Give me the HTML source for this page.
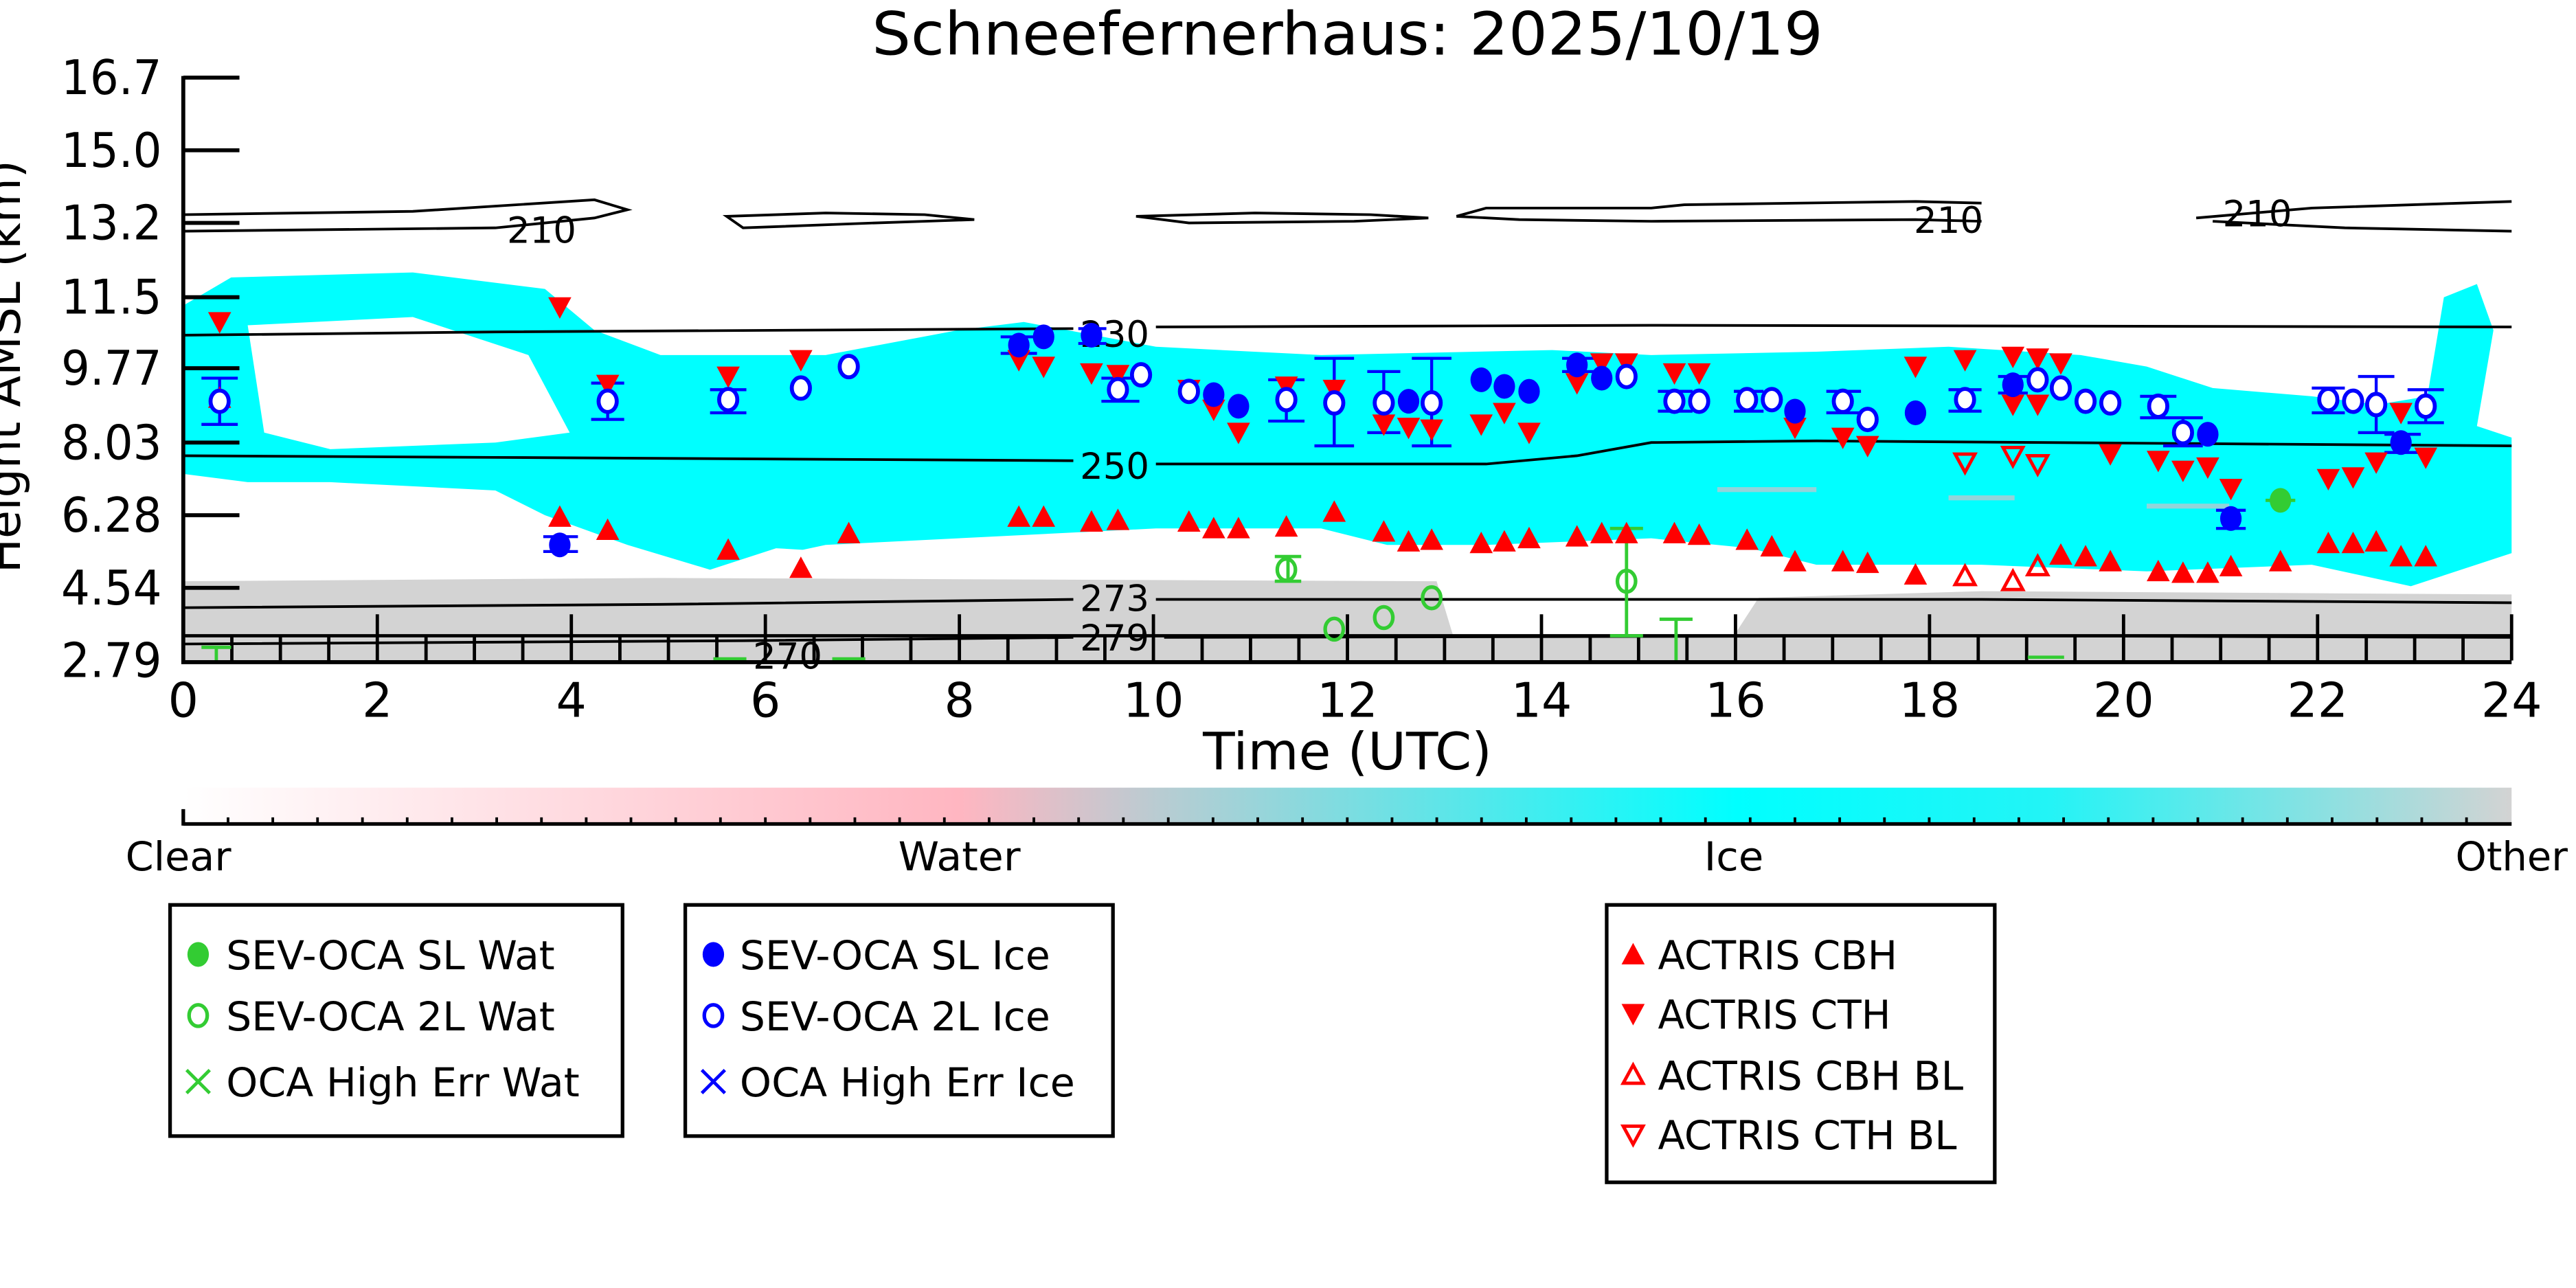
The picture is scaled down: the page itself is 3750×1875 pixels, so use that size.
<!DOCTYPE html>
<html><head><meta charset="utf-8"><style>html,body{margin:0;padding:0;background:#fff;overflow:hidden}svg{display:block}text{font-family:"DejaVu Sans","Liberation Sans",sans-serif;fill:#000}</style></head><body>
<svg width="3750" height="1875" viewBox="0 0 1560 780" xmlns="http://www.w3.org/2000/svg">
<defs>
<linearGradient id="cb" x1="0" x2="1" y1="0" y2="0">
<stop offset="0" stop-color="#ffffff"/><stop offset="0.333" stop-color="#ffb6c1"/><stop offset="0.42" stop-color="#b8ccd2"/><stop offset="0.667" stop-color="#00ffff"/><stop offset="0.8" stop-color="#22f4f6"/><stop offset="1" stop-color="#d3d3d3"/></linearGradient>
<polygon id="tu" points="0,-7 7,6 -7,6" fill="#f00"/>
<polygon id="td" points="0,7 7,-6 -7,-6" fill="#f00"/>
<polygon id="tuh" points="0,-6 6,5 -6,5" fill="none" stroke="#f00" stroke-width="2"/>
<polygon id="tdh" points="0,6 6,-5 -6,-5" fill="none" stroke="#f00" stroke-width="2"/>
<ellipse id="bf" rx="6.5" ry="7.5" fill="#00f"/>
<ellipse id="bh" rx="5.5" ry="6.5" fill="#fff" stroke="#00f" stroke-width="2.4"/>
</defs>
<text x="528" y="33" font-size="36" textLength="576" lengthAdjust="spacingAndGlyphs">Schneefernerhaus: 2025/10/19</text>

<polygon fill="#d3d3d3" points="111,352 400,350 870,352 880,385 1050,385 1065,362 1200,358 1521,360 1521,400 111,400"/>
<polygon fill="#00ffff" points="111,185 140,168 250,165 330,175 360,200 400,215 500,215 580,200 620,195 700,210 800,215 940,212 1000,215 1100,213 1180,210 1260,215 1300,222 1340,235 1400,240 1440,245 1470,240 1480,180 1500,172 1510,200 1500,258 1521,265 1521,335 1460,355 1400,342 1300,346 1200,342 1100,342 1060,332 1000,326 900,330 840,330 800,320 700,320 600,325 500,330 430,345 380,330 330,312 300,297 200,292 150,292 111,287"/>
<polygon fill="#fff" points="150,197 250,192 320,215 345,262 300,268 200,272 160,262"/>
<polygon fill="#fff" points="430,345 470,347 520,335 470,332"/>
<g fill="#f4b8c2" opacity="0.6"><rect x="1040" y="295" width="60" height="3"/><rect x="1180" y="300" width="40" height="3"/><rect x="1300" y="305" width="50" height="3"/></g>

<g fill="none" stroke="#000" stroke-width="1.6">
<path d="M111,130 L250,128 L360,121 L380,127 L360,132 L300,138 L111,140"/>
<path d="M440,131 L500,129 L560,130 L590,133 L530,135 L450,138 Z"/>
<path d="M688,131 L760,129 L830,130 L865,132 L820,134 L720,135 Z"/>
<path d="M882,131 L900,126 L1000,126 L1020,124 L1160,122 L1200,123 M882,131 L920,133 L1000,134 L1160,133 L1200,134"/>
<path d="M1330,132 L1400,126 L1521,122 M1340,134 L1420,138 L1521,140"/>
<path d="M111,203 L300,201 L650,199 M700,198 L1000,197 L1521,198"/>
<path d="M111,276 L300,277 L650,279 M700,281 L900,281 L955,276 L1000,268 L1100,267 L1521,270"/>
<path d="M111,368 L400,366 L650,363 M700,363 L1200,363 L1521,365"/>
<path d="M111,390 L450,388 L650,386 M705,386 L1200,385 L1521,386"/>
</g>
<g font-size="22"><text x="307" y="147">210</text><text x="1159" y="141">210</text><text x="1346" y="137">210</text><text x="654" y="210">230</text><text x="654" y="290">250</text><text x="654" y="370">273</text><text x="654" y="394">279</text><text x="456" y="405">270</text></g>

<g stroke="#000" stroke-width="2">
<line x1="111" x2="1521" y1="385" y2="385"/>
<path d="M140.4,385V400M169.8,385V400M199.1,385V400M258,385V400M287.3,385V400M316.6,385V400M375.4,385V400M404.8,385V400M434.1,385V400M493,385V400M522.3,385V400M551.6,385V400M610.4,385V400M639.8,385V400M669.1,385V400M728,385V400M757.3,385V400M786.6,385V400M845.4,385V400M874.8,385V400M904.1,385V400M963,385V400M992.3,385V400M1021.6,385V400M1080.4,385V400M1109.8,385V400M1139.1,385V400M1198,385V400M1227.3,385V400M1256.6,385V400M1315.4,385V400M1344.8,385V400M1374.1,385V400M1433,385V400M1462.3,385V400M1491.6,385V400"/>
<path d="M228.5,372V400M346,372V400M463.5,372V400M581,372V400M698.5,372V400M816,372V400M933.5,372V400M1051,372V400M1168.5,372V400M1286,372V400M1403.5,372V400M1521,372V400"/>
</g>
<g stroke="#33cc33" stroke-width="2" fill="none">
<path d="M122,392H140M131,392V400"/><path d="M432,399H452"/><path d="M504,399H524"/><path d="M1228,398H1250"/>
<path d="M772,337H788M772,352H788M780,337V352"/><path d="M975,320H995M975,385H995M985,320V385M1005,375H1025M1015,375V400"/>
<ellipse cx="779" cy="345" rx="5.5" ry="6.5" stroke-width="2.2"/><ellipse cx="808" cy="381" rx="5.5" ry="6.5" stroke-width="2.2"/><ellipse cx="838" cy="374" rx="5.5" ry="6.5" stroke-width="2.2"/><ellipse cx="867" cy="362" rx="5.5" ry="6.5" stroke-width="2.2"/><ellipse cx="985" cy="352" rx="5.5" ry="6.5" stroke-width="2.2"/>
<path d="M1372,303H1390"/>
</g>
<ellipse cx="1381" cy="303" rx="6.5" ry="7.5" fill="#33cc33"/>

<g stroke="#00f" stroke-width="1.8" fill="none">
<path d="M122,229H144M122,257H144M133,229V257"/>
<path d="M796,217H820M796,270H820M808,217V270M855,217H879M855,270H879M867,217V270M768,230H790M768,255H790M779,230V255M828,225H848M828,262H848M838,225V262M1296,240H1318M1296,253H1318M1307,240V253M1428,228H1450M1428,262H1450M1439,228V262M1310,253H1334M1310,270H1334M1322,253V270M1400,235H1420M1400,250H1420M1410,235V250M1458,236H1480M1458,256H1480M1469,236V256M358,232H378M358,254H378M368,232V254M430,236H452M430,250H452M441,236V250M606,204H628M606,214H628M653,199H670M653,208H670M329,325H350M329,334H350M1342,309H1360M1342,320H1360M1444,263H1466M1444,274H1466M667,229H690M667,243H690M946,217H968M946,225H968M1004,237H1025M1004,249H1025M1050,237H1068M1050,249H1068M1106,237H1127M1106,250H1127M1180,236H1200M1180,249H1200M1210,228H1228M1210,238H1228"/>
</g>

<g>
<use href="#td" x="133" y="195"/><use href="#td" x="339" y="186"/><use href="#td" x="368" y="233"/><use href="#td" x="441" y="228"/><use href="#td" x="485" y="218"/><use href="#td" x="617" y="218"/><use href="#td" x="632" y="222"/><use href="#td" x="661" y="226"/><use href="#td" x="677" y="227"/><use href="#td" x="720" y="236"/><use href="#td" x="735" y="248"/><use href="#td" x="750" y="262"/><use href="#td" x="779" y="234"/><use href="#td" x="808" y="236"/><use href="#td" x="838" y="257"/><use href="#td" x="853" y="259"/><use href="#td" x="867" y="260"/><use href="#td" x="897" y="257"/><use href="#td" x="911" y="250"/><use href="#td" x="926" y="262"/><use href="#td" x="955" y="232"/><use href="#td" x="970" y="220"/><use href="#td" x="985" y="220"/><use href="#td" x="1014" y="226"/><use href="#td" x="1029" y="226"/><use href="#td" x="1087" y="259"/><use href="#td" x="1116" y="265"/><use href="#td" x="1131" y="270"/><use href="#td" x="1160" y="222"/><use href="#td" x="1190" y="218"/><use href="#td" x="1219" y="216"/><use href="#td" x="1234" y="217"/><use href="#td" x="1248" y="220"/><use href="#td" x="1278" y="275"/><use href="#td" x="1307" y="279"/><use href="#td" x="1322" y="285"/><use href="#td" x="1337" y="283"/><use href="#td" x="1351" y="296"/><use href="#td" x="1410" y="290"/><use href="#td" x="1425" y="289"/><use href="#td" x="1439" y="280"/><use href="#td" x="1454" y="250"/><use href="#td" x="1469" y="277"/><use href="#td" x="1219" y="245"/><use href="#td" x="1234" y="245"/>
</g>
<g>
<use href="#tu" x="133" y="241"/><use href="#tu" x="339" y="313"/><use href="#tu" x="368" y="321"/><use href="#tu" x="441" y="333"/><use href="#tu" x="485" y="344"/><use href="#tu" x="514" y="323"/><use href="#tu" x="617" y="313"/><use href="#tu" x="632" y="313"/><use href="#tu" x="661" y="316"/><use href="#tu" x="677" y="315"/><use href="#tu" x="720" y="316"/><use href="#tu" x="735" y="320"/><use href="#tu" x="750" y="320"/><use href="#tu" x="779" y="319"/><use href="#tu" x="808" y="310"/><use href="#tu" x="838" y="322"/><use href="#tu" x="853" y="328"/><use href="#tu" x="867" y="327"/><use href="#tu" x="897" y="329"/><use href="#tu" x="911" y="328"/><use href="#tu" x="926" y="326"/><use href="#tu" x="955" y="325"/><use href="#tu" x="970" y="323"/><use href="#tu" x="985" y="323"/><use href="#tu" x="1014" y="323"/><use href="#tu" x="1029" y="324"/><use href="#tu" x="1058" y="327"/><use href="#tu" x="1073" y="331"/><use href="#tu" x="1087" y="340"/><use href="#tu" x="1116" y="340"/><use href="#tu" x="1131" y="341"/><use href="#tu" x="1160" y="348"/><use href="#tu" x="1248" y="336"/><use href="#tu" x="1263" y="337"/><use href="#tu" x="1278" y="340"/><use href="#tu" x="1307" y="346"/><use href="#tu" x="1322" y="347"/><use href="#tu" x="1337" y="347"/><use href="#tu" x="1351" y="343"/><use href="#tu" x="1381" y="340"/><use href="#tu" x="1410" y="329"/><use href="#tu" x="1425" y="329"/><use href="#tu" x="1439" y="328"/><use href="#tu" x="1454" y="337"/><use href="#tu" x="1469" y="337"/>
<use href="#tuh" x="1190" y="349"/><use href="#tuh" x="1219" y="352"/><use href="#tuh" x="1234" y="343"/>
<use href="#tdh" x="1190" y="280"/><use href="#tdh" x="1219" y="276"/><use href="#tdh" x="1234" y="281"/>
</g>
<g>
<use href="#bf" x="339" y="330"/><use href="#bf" x="617" y="209"/><use href="#bf" x="632" y="204"/><use href="#bf" x="661" y="203"/><use href="#bf" x="735" y="239"/><use href="#bf" x="750" y="246"/><use href="#bf" x="853" y="243"/><use href="#bf" x="897" y="230"/><use href="#bf" x="911" y="234"/><use href="#bf" x="926" y="237"/><use href="#bf" x="955" y="221"/><use href="#bf" x="970" y="229"/><use href="#bf" x="1087" y="249"/><use href="#bf" x="1160" y="250"/><use href="#bf" x="1219" y="233"/><use href="#bf" x="1337" y="263"/><use href="#bf" x="1351" y="314"/><use href="#bf" x="1454" y="268"/>
<use href="#bh" x="133" y="243"/><use href="#bh" x="368" y="243"/><use href="#bh" x="441" y="242"/><use href="#bh" x="485" y="235"/><use href="#bh" x="514" y="222"/><use href="#bh" x="677" y="236"/><use href="#bh" x="691" y="227"/><use href="#bh" x="720" y="237"/><use href="#bh" x="779" y="242"/><use href="#bh" x="808" y="244"/><use href="#bh" x="838" y="244"/><use href="#bh" x="867" y="244"/><use href="#bh" x="985" y="228"/><use href="#bh" x="1014" y="243"/><use href="#bh" x="1029" y="243"/><use href="#bh" x="1058" y="242"/><use href="#bh" x="1073" y="242"/><use href="#bh" x="1116" y="243"/><use href="#bh" x="1131" y="254"/><use href="#bh" x="1190" y="242"/><use href="#bh" x="1234" y="230"/><use href="#bh" x="1248" y="235"/><use href="#bh" x="1263" y="243"/><use href="#bh" x="1278" y="244"/><use href="#bh" x="1307" y="246"/><use href="#bh" x="1322" y="262"/><use href="#bh" x="1410" y="242"/><use href="#bh" x="1425" y="243"/><use href="#bh" x="1439" y="245"/><use href="#bh" x="1469" y="246"/>
</g>

<g stroke="#000" stroke-width="2.4" fill="none">
<path d="M111,46V401H1521"/>
<path d="M111,47H145M111,91H145M111,135H145M111,180H145M111,223H145M111,268H145M111,312H145M111,356H145"/>
</g>
<g font-size="29" text-anchor="end">
<text x="98" y="57" textLength="61" lengthAdjust="spacingAndGlyphs">16.7</text><text x="98" y="101" textLength="61" lengthAdjust="spacingAndGlyphs">15.0</text><text x="98" y="145" textLength="61" lengthAdjust="spacingAndGlyphs">13.2</text><text x="98" y="190" textLength="61" lengthAdjust="spacingAndGlyphs">11.5</text><text x="98" y="233" textLength="61" lengthAdjust="spacingAndGlyphs">9.77</text><text x="98" y="278" textLength="61" lengthAdjust="spacingAndGlyphs">8.03</text><text x="98" y="322" textLength="61" lengthAdjust="spacingAndGlyphs">6.28</text><text x="98" y="366" textLength="61" lengthAdjust="spacingAndGlyphs">4.54</text><text x="98" y="410" textLength="61" lengthAdjust="spacingAndGlyphs">2.79</text>
</g>
<g font-size="29" text-anchor="middle">
<text x="111" y="434">0</text><text x="228.5" y="434">2</text><text x="346" y="434">4</text><text x="463.5" y="434">6</text><text x="581" y="434">8</text><text x="698.5" y="434">10</text><text x="816" y="434">12</text><text x="933.5" y="434">14</text><text x="1051" y="434">16</text><text x="1168.5" y="434">18</text><text x="1286" y="434">20</text><text x="1403.5" y="434">22</text><text x="1521" y="434">24</text>
<text x="816" y="466" font-size="31" textLength="175" lengthAdjust="spacingAndGlyphs">Time (UTC)</text>
<text transform="translate(12,222) rotate(-90)" font-size="28" textLength="250" lengthAdjust="spacingAndGlyphs">Height AMSL (km)</text>
</g>

<rect x="111" y="477" width="1410" height="22" fill="url(#cb)"/>
<path d="M111,499H1521M111,490V500" stroke="#000" stroke-width="2.2"/>
<g stroke="#000" stroke-width="1.6">
<path d="M138.1,495V499M165.2,495V499M192.3,495V499M219.5,495V499M246.6,495V499M273.7,495V499M300.8,495V499M327.9,495V499M355,495V499M382.1,495V499M409.2,495V499M436.3,495V499M463.5,495V499M490.6,495V499M517.7,495V499M544.8,495V499M571.9,495V499M599,495V499M626.1,495V499M653.2,495V499M680.3,495V499M707.5,495V499M734.6,495V499M761.7,495V499M788.8,495V499M815.9,495V499M843,495V499M870.1,495V499M897.2,495V499M924.3,495V499M951.5,495V499M978.6,495V499M1005.7,495V499M1032.8,495V499M1059.9,495V499M1087,495V499M1114.1,495V499M1141.2,495V499M1168.3,495V499M1195.5,495V499M1222.6,495V499M1249.7,495V499M1276.8,495V499M1303.9,495V499M1331,495V499M1358.1,495V499M1385.2,495V499M1412.3,495V499M1439.5,495V499M1466.6,495V499M1493.7,495V499"/>
</g>
<g font-size="24" text-anchor="middle"><text x="108" y="527" textLength="64" lengthAdjust="spacingAndGlyphs">Clear</text><text x="581" y="527" textLength="74" lengthAdjust="spacingAndGlyphs">Water</text><text x="1050" y="527" textLength="36" lengthAdjust="spacingAndGlyphs">Ice</text><text x="1521" y="527" textLength="68" lengthAdjust="spacingAndGlyphs">Other</text></g>

<g stroke="#000" stroke-width="2.2" fill="none">
<rect x="103" y="548" width="274" height="140"/><rect x="415" y="548" width="259" height="140"/><rect x="973" y="548" width="235" height="168"/>
</g>
<ellipse cx="120" cy="578" rx="6.5" ry="7.5" fill="#33cc33"/>
<ellipse cx="120" cy="615" rx="5.5" ry="6.5" fill="none" stroke="#33cc33" stroke-width="2.2"/>
<path d="M113,648L127,662M127,648L113,662" stroke="#33cc33" stroke-width="2"/>
<ellipse cx="432" cy="578" rx="6.5" ry="7.5" fill="#00f"/>
<ellipse cx="432" cy="615" rx="5.5" ry="6.5" fill="none" stroke="#00f" stroke-width="2.2"/>
<path d="M425,648L439,662M439,648L425,662" stroke="#00f" stroke-width="2"/>
<use href="#tu" x="989" y="578"/><use href="#td" x="989" y="614"/><use href="#tuh" x="989" y="651"/><use href="#tdh" x="989" y="687"/>
<g font-size="24">
<text x="137" y="587" textLength="199" lengthAdjust="spacingAndGlyphs">SEV-OCA SL Wat</text>
<text x="137" y="624" textLength="199" lengthAdjust="spacingAndGlyphs">SEV-OCA 2L Wat</text>
<text x="137" y="664" textLength="214" lengthAdjust="spacingAndGlyphs">OCA High Err Wat</text>
<text x="448" y="587" textLength="188" lengthAdjust="spacingAndGlyphs">SEV-OCA SL Ice</text>
<text x="448" y="624" textLength="188" lengthAdjust="spacingAndGlyphs">SEV-OCA 2L Ice</text>
<text x="448" y="664" textLength="203" lengthAdjust="spacingAndGlyphs">OCA High Err Ice</text>
<text x="1004" y="587" textLength="145" lengthAdjust="spacingAndGlyphs">ACTRIS CBH</text>
<text x="1004" y="623" textLength="141" lengthAdjust="spacingAndGlyphs">ACTRIS CTH</text>
<text x="1004" y="660" textLength="185" lengthAdjust="spacingAndGlyphs">ACTRIS CBH BL</text>
<text x="1004" y="696" textLength="181" lengthAdjust="spacingAndGlyphs">ACTRIS CTH BL</text>
</g>
</svg>
</body></html>
